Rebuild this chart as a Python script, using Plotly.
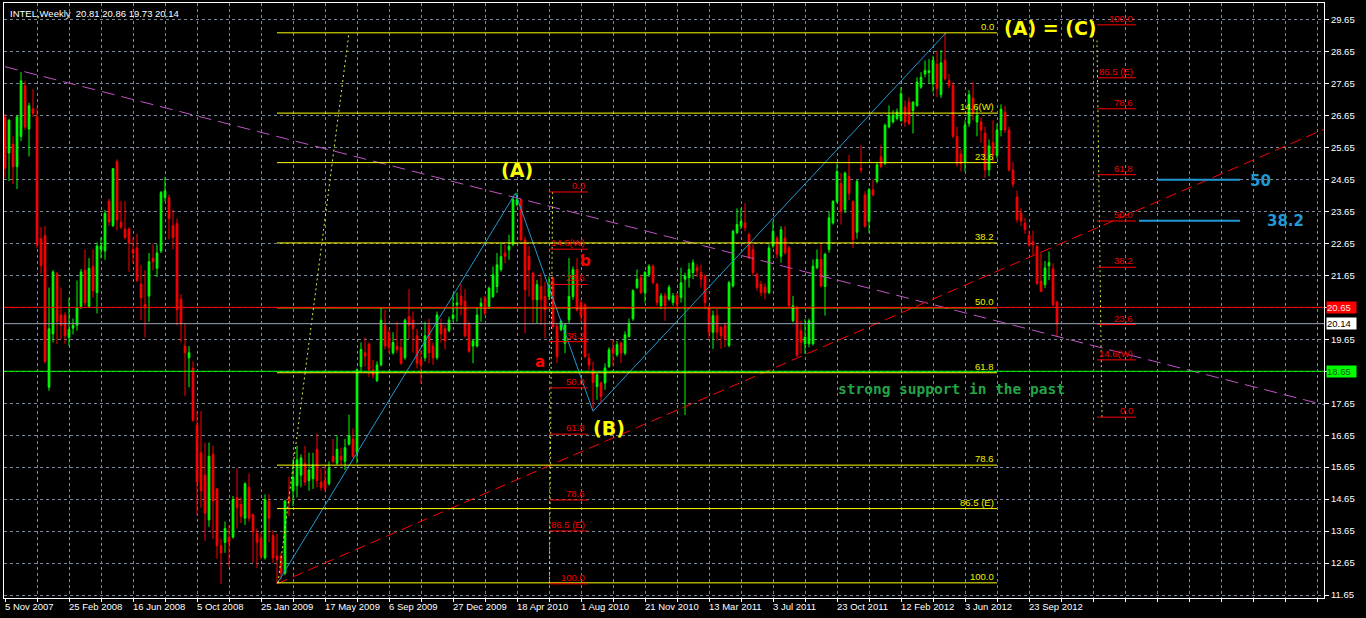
import plotly.graph_objects as go

# ---------------- data (weekly bars, index 0 = week of 5 Nov 2007) ----------------
OPEN = [26.60, 25.48, 25.75, 25.05, 26.00, 27.58, 26.23, 26.86, 26.61, 22.80,
        22.89, 18.15, 19.82, 21.70, 20.41, 20.41, 19.71, 20.00, 20.09, 20.68,
        21.81, 20.68, 21.92, 21.11, 22.46, 22.41, 23.97, 23.21, 25.21, 23.32,
        23.10, 23.10, 22.46, 22.51, 21.38, 20.74, 21.00, 22.19, 21.87, 22.41,
        24.08, 24.08, 23.21, 23.27, 20.90, 19.44, 19.07, 18.74, 16.96, 16.10,
        15.40, 14.00, 16.05, 14.97, 13.19, 13.30, 13.46, 13.46, 14.70, 14.48,
        14.05, 15.02, 14.16, 13.57, 13.41, 12.81, 14.59, 13.51, 12.87, 12.87,
        12.33, 14.70, 14.91, 15.07, 15.40, 15.77, 15.23, 15.29, 16.21, 15.18,
        15.23, 15.13, 15.99, 15.77, 15.99, 15.83, 16.37, 16.53, 16.10, 18.80,
        19.23, 19.50, 18.69, 18.36, 18.85, 20.09, 19.87, 19.23, 19.44, 19.39,
        19.07, 20.36, 20.25, 19.76, 19.01, 19.07, 20.09, 19.44, 19.07, 20.14,
        19.98, 19.92, 20.30, 20.73, 21.00, 20.84, 20.14, 19.44, 19.44, 20.68,
        20.94, 20.68, 20.99, 21.30, 21.83, 22.35, 22.45, 22.61, 23.86, 24.02,
        22.76, 22.24, 21.72, 20.89, 21.30, 20.99, 20.99, 21.57, 20.05, 19.95,
        19.53, 20.26, 20.99, 21.83, 20.80, 20.73, 19.06, 18.70, 18.17, 18.28,
        18.28, 18.80, 19.37, 19.17, 19.53, 19.22, 19.74, 20.29, 21.27, 21.58,
        21.11, 21.68, 21.94, 21.37, 20.70, 21.01, 20.91, 20.80, 21.01, 20.96,
        21.53, 21.58, 21.74, 21.89, 21.74, 21.63, 20.65, 19.87, 20.39, 20.03,
        20.08, 19.46, 21.32, 22.99, 23.20, 23.29, 22.93, 22.46, 21.68, 21.37,
        21.27, 21.11, 22.57, 22.82, 22.25, 22.82, 22.51, 20.23, 20.65, 19.92,
        19.51, 19.51, 19.51, 21.89, 22.15, 21.30, 22.46, 23.29, 23.96, 24.53,
        23.70, 24.74, 23.96, 23.00, 25.00, 24.17, 23.34, 24.33, 24.59, 25.36,
        25.16, 26.30, 26.45, 26.56, 26.50, 26.92, 27.07, 26.81, 26.97, 27.54,
        27.95, 28.00, 27.64, 28.26, 27.30, 28.37, 27.75, 27.60, 26.00, 25.45,
        25.20, 26.40, 27.20, 26.45, 26.45, 26.10, 24.95, 25.80, 25.40, 26.20,
        26.75, 26.20, 24.95, 24.10, 23.60, 23.28, 22.90, 22.70, 22.56, 21.46,
        21.36, 21.95, 21.85, 20.81]
HIGH = [26.70, 26.55, 26.00, 26.66, 28.01, 27.74, 27.05, 27.47, 26.90, 23.16,
        23.20, 21.27, 21.81, 21.76, 21.27, 20.50, 20.95, 20.30, 21.49, 21.85,
        22.46, 22.19, 22.46, 22.68, 22.84, 23.70, 24.05, 25.00, 25.28, 23.97,
        23.97, 23.15, 22.84, 22.95, 21.97, 21.81, 22.35, 22.62, 22.62, 24.29,
        24.72, 24.18, 23.70, 23.43, 21.06, 20.14, 19.44, 18.96, 17.40, 17.40,
        16.42, 16.42, 16.32, 15.00, 13.41, 13.95, 13.84, 14.75, 15.61, 14.70,
        15.18, 15.45, 14.20, 13.73, 13.62, 14.80, 14.80, 13.68, 13.57, 12.97,
        14.62, 15.34, 15.88, 16.32, 16.05, 16.32, 16.10, 16.10, 16.70, 15.61,
        15.67, 15.83, 16.53, 16.64, 16.26, 16.53, 17.29, 16.86, 18.74, 19.55,
        19.71, 19.55, 19.01, 18.96, 20.63, 20.57, 19.98, 19.87, 20.20, 19.66,
        20.30, 21.22, 20.52, 19.98, 19.33, 20.20, 20.30, 19.55, 20.52, 20.30,
        20.09, 20.36, 21.06, 21.11, 21.38, 21.22, 20.20, 19.65, 20.63, 20.95,
        21.00, 21.30, 21.93, 22.35, 22.66, 22.61, 22.92, 24.10, 24.24, 24.05,
        22.87, 22.56, 21.77, 21.51, 21.72, 21.46, 21.62, 21.62, 20.16, 20.26,
        20.16, 22.19, 21.93, 22.19, 20.90, 20.78, 19.22, 18.95, 18.59, 18.33,
        18.90, 19.40, 19.63, 19.60, 19.58, 19.90, 20.30, 21.22, 21.84, 21.68,
        21.79, 22.00, 21.99, 21.42, 21.10, 21.11, 21.35, 21.10, 21.10, 21.89,
        21.73, 22.04, 22.15, 22.00, 21.99, 21.68, 20.70, 20.55, 20.60, 20.08,
        20.18, 21.48, 23.08, 23.75, 23.75, 23.91, 22.99, 22.62, 21.73, 21.48,
        21.40, 22.62, 23.34, 22.88, 23.19, 23.19, 22.57, 21.01, 20.70, 20.23,
        20.28, 20.30, 22.15, 22.46, 22.62, 22.36, 23.65, 24.01, 25.15, 24.85,
        24.90, 25.42, 24.00, 24.64, 25.72, 24.28, 24.38, 24.64, 25.21, 25.72,
        26.40, 26.97, 26.82, 26.87, 27.54, 27.12, 27.23, 27.10, 27.85, 28.01,
        28.37, 28.42, 28.52, 28.68, 28.70, 29.24, 27.95, 27.70, 26.30, 25.60,
        26.50, 27.45, 27.70, 26.90, 26.60, 26.30, 25.90, 26.50, 26.40, 27.00,
        26.95, 26.30, 25.20, 24.30, 23.75, 23.45, 23.05, 23.05, 22.60, 22.40,
        22.10, 22.40, 22.03, 20.86]
LOW = [24.70, 24.60, 24.50, 24.35, 25.85, 26.20, 25.37, 26.60, 22.50, 21.70,
       18.90, 18.04, 19.55, 19.50, 19.66, 19.50, 19.44, 19.80, 19.92, 20.60,
       20.68, 20.63, 20.95, 20.46, 22.19, 22.14, 23.20, 23.16, 23.05, 23.10,
       22.78, 21.76, 22.03, 21.45, 20.25, 19.71, 20.20, 21.81, 21.60, 22.35,
       23.97, 22.78, 22.46, 20.09, 19.55, 17.88, 18.15, 17.07, 14.16, 14.38,
       13.35, 13.78, 13.41, 12.79, 12.00, 12.97, 12.54, 13.41, 13.73, 13.90,
       13.84, 13.95, 12.65, 12.49, 12.76, 12.76, 13.30, 12.65, 12.00, 12.11,
       12.27, 14.11, 14.43, 14.70, 15.02, 15.07, 14.91, 14.97, 15.02, 14.91,
       14.91, 15.07, 15.77, 15.72, 15.72, 15.56, 16.32, 15.94, 15.77, 18.63,
       18.80, 18.47, 18.42, 18.31, 18.80, 19.33, 19.23, 19.17, 19.23, 18.85,
       19.01, 19.66, 19.23, 18.74, 18.26, 18.96, 18.90, 18.85, 19.01, 19.55,
       19.33, 19.87, 20.20, 20.20, 20.41, 19.71, 19.23, 18.90, 19.39, 20.20,
       20.40, 20.60, 20.94, 21.10, 21.77, 22.03, 22.14, 22.56, 23.81, 22.71,
       19.84, 20.99, 20.16, 20.16, 20.10, 19.69, 20.89, 19.95, 18.90, 19.90,
       19.22, 20.16, 20.89, 20.52, 20.20, 19.06, 18.69, 17.42, 17.76, 17.65,
       18.07, 18.75, 18.80, 19.10, 18.90, 19.15, 19.70, 20.23, 21.22, 21.06,
       20.80, 21.60, 21.37, 20.70, 20.60, 20.23, 20.85, 20.70, 20.60, 20.80,
       17.28, 21.27, 21.53, 21.60, 21.27, 20.60, 19.67, 19.35, 19.61, 19.35,
       19.40, 19.40, 21.27, 22.94, 23.10, 23.03, 22.15, 21.63, 21.17, 21.00,
       20.90, 21.06, 22.50, 22.20, 22.05, 22.30, 20.65, 20.18, 19.10, 19.20,
       19.20, 19.40, 19.46, 21.84, 21.27, 20.39, 22.36, 23.24, 23.91, 23.24,
       23.60, 24.01, 22.51, 22.80, 24.85, 23.14, 22.98, 24.12, 24.53, 25.00,
       25.10, 26.25, 26.40, 26.50, 26.45, 26.30, 26.35, 26.09, 26.92, 27.49,
       27.85, 27.64, 27.38, 27.23, 27.20, 27.75, 27.50, 25.95, 25.05, 24.90,
       24.90, 26.30, 26.50, 26.00, 25.80, 24.70, 24.75, 25.20, 25.30, 26.00,
       26.10, 24.90, 24.40, 23.30, 23.20, 22.95, 22.55, 22.30, 21.35, 21.15,
       21.25, 21.50, 20.68, 19.73]
CLOSE = [25.00, 26.50, 25.05, 26.61, 27.74, 26.29, 26.96, 26.72, 22.62, 21.97,
         18.96, 19.98, 21.76, 20.20, 20.09, 19.76, 19.96, 20.09, 20.63, 21.76,
         20.79, 21.87, 21.17, 22.57, 22.57, 23.59, 23.32, 24.99, 23.38, 23.16,
         22.84, 22.67, 22.35, 21.49, 20.95, 20.63, 22.08, 22.08, 22.35, 24.24,
         24.29, 23.43, 22.84, 20.57, 20.14, 19.23, 19.23, 17.12, 15.18, 14.91,
         14.21, 15.99, 14.59, 13.19, 12.97, 13.73, 13.30, 14.64, 14.38, 14.11,
         15.13, 14.05, 13.62, 13.30, 12.87, 14.64, 14.05, 12.81, 12.76, 12.33,
         14.59, 14.54, 15.34, 15.88, 15.94, 15.18, 15.56, 15.72, 15.23, 15.02,
         14.97, 15.61, 15.83, 16.21, 15.88, 16.26, 16.64, 15.99, 18.69, 19.33,
         19.12, 18.69, 18.53, 18.85, 20.25, 19.44, 19.39, 19.55, 19.33, 18.90,
         20.25, 20.09, 19.98, 18.90, 18.85, 19.76, 19.23, 19.07, 20.41, 19.82,
         19.60, 20.25, 20.41, 20.79, 20.73, 19.76, 19.28, 19.60, 20.41, 20.78,
         20.47, 21.25, 21.67, 21.98, 22.24, 22.24, 22.56, 24.02, 24.02, 22.76,
         21.20, 21.83, 20.89, 21.36, 20.89, 20.57, 21.36, 20.05, 19.11, 20.21,
         20.10, 20.99, 21.83, 20.57, 20.39, 19.11, 18.85, 18.30, 18.54, 17.86,
         18.75, 19.32, 19.22, 19.48, 19.22, 19.79, 20.16, 21.17, 21.53, 21.11,
         21.74, 21.94, 21.42, 20.80, 21.01, 20.70, 21.27, 21.01, 20.75, 21.42,
         21.63, 21.84, 22.05, 21.79, 21.53, 20.80, 19.87, 20.39, 19.87, 19.77,
         19.66, 21.42, 23.03, 23.24, 23.34, 23.14, 22.20, 21.74, 21.27, 21.11,
         21.11, 22.51, 23.03, 22.31, 23.08, 22.36, 20.70, 20.70, 19.15, 19.56,
         19.72, 20.23, 21.94, 22.15, 21.32, 22.31, 23.45, 23.96, 24.90, 23.65,
         24.85, 24.22, 22.77, 24.59, 24.95, 23.19, 24.33, 24.17, 25.11, 25.05,
         26.35, 26.66, 26.66, 26.76, 27.33, 26.45, 26.40, 27.07, 27.70, 27.85,
         28.06, 28.05, 28.37, 27.49, 28.30, 27.80, 27.60, 26.00, 25.15, 25.15,
         26.35, 27.30, 26.75, 26.65, 26.20, 24.95, 25.70, 25.40, 26.20, 26.85,
         26.20, 24.95, 24.50, 23.40, 23.35, 23.08, 22.60, 22.60, 21.40, 21.15,
         21.88, 22.05, 20.73, 20.14]

DATE_LABELS = ["5 Nov 2007", "25 Feb 2008", "16 Jun 2008", "5 Oct 2008", "25 Jan 2009",
               "17 May 2009", "6 Sep 2009", "27 Dec 2009", "18 Apr 2010", "1 Aug 2010",
               "21 Nov 2010", "13 Mar 2011", "3 Jul 2011", "23 Oct 2011", "12 Feb 2012",
               "3 Jun 2012", "23 Sep 2012"]
LABEL_STEP = 16      # bars between date labels
GRID_STEP = 8        # bars between vertical grid lines
PRICE_TICKS = [11.65 + k for k in range(19)]

SYMBOL = "INTEL,Weekly"
LAST_OHLC = [20.81, 20.86, 19.73, 20.14]

# horizontal levels
RED_LEVEL = 20.65
BID_LEVEL = 20.14
GREEN_LEVEL = 18.65

# fibonacci objects
FIB_PCT = [0.0, 14.6, 23.6, 38.2, 50.0, 61.8, 78.6, 86.5, 100.0]
FIB_TXT = ["0.0", "14.6(W)", "23.6", "38.2", "50.0", "61.8", "78.6", "86.5 (E)", "100.0"]
FIB_Y_P0, FIB_Y_P100, FIB_Y_X = 29.24, 12.03, [68, 248]          # big yellow fib
FIB_Y_DIAG = [[68.25, 86.0], [12.03, 29.24]]
FIB_R1_P0, FIB_R1_P100, FIB_R1_X = 24.26, 12.00, [136, 145.75]   # small red fib
FIB_R1_DIAG = [[136.1, 136.9], [12.0, 24.26]]
FIB_R2_P0, FIB_R2_P100, FIB_R2_X = 17.215, 29.49, [273, 282.75]  # right red fib
FIB_R2_DIAG = [[274.25, 273.0], [17.215, 29.0]]

# trend lines / wave path
PURPLE_TL = [[0, 329.75], [28.18, 17.60]]
RED_TL = [[68, 329.75], [12.00, 26.22]]
WAVE_X = [68, 127.6, 147, 235.25]
WAVE_Y = [12.00, 24.22, 17.40, 29.24]
BLUE_50 = [[288, 308.75], [24.64, 24.64]]
BLUE_382 = [[283.5, 308.75], [23.36, 23.36]]

n = len(OPEN)
idx = list(range(n))

BG = "#000000"
GRID = "#7A8799"
YEL = "#FFFF00"
RED = "#FF0000"
LIME = "#00FF00"
BLUE = "#2298D4"
AXF = "Liberation Sans, Arial, sans-serif"

fig = go.Figure()
fig.add_trace(go.Candlestick(
    x=idx, open=OPEN, high=HIGH, low=LOW, close=CLOSE,
    increasing=dict(line=dict(color=LIME, width=1), fillcolor=LIME),
    decreasing=dict(line=dict(color=RED, width=1), fillcolor=RED),
    whiskerwidth=0, showlegend=False, hoverinfo="skip"))

def line(xs, ys, color, width=1, dash=None):
    fig.add_trace(go.Scatter(x=xs, y=ys, mode="lines", showlegend=False, hoverinfo="skip",
                             line=dict(color=color, width=width, dash=dash)))

# trend lines
line(PURPLE_TL[0], PURPLE_TL[1], "#C054C8", 1, "13px,7px")
line(RED_TL[0], RED_TL[1], RED, 1, "11px,6px")
line(WAVE_X, WAVE_Y, BLUE, 1)
line(FIB_Y_DIAG[0], FIB_Y_DIAG[1], "#D8F040", 1, "2px,3px")
line(FIB_R1_DIAG[0], FIB_R1_DIAG[1], "#D8F040", 1, "2px,3px")
line(FIB_R2_DIAG[0], FIB_R2_DIAG[1], "#D8F040", 1, "2px,3px")
line(BLUE_50[0], BLUE_50[1], BLUE, 2)
line(BLUE_382[0], BLUE_382[1], BLUE, 2)

shapes = []
annots = []

def hline_full(y, color):
    shapes.append(dict(type="line", xref="paper", x0=0, x1=1, yref="y", y0=y, y1=y,
                       line=dict(color=color, width=1)))

hline_full(GREEN_LEVEL, LIME)
hline_full(BID_LEVEL, "#9AA3B5")

def fib(p0, p100, xr, color, txtcolor):
    for pct, t in zip(FIB_PCT, FIB_TXT):
        y = p0 + (p100 - p0) * pct / 100.0
        shapes.append(dict(type="line", xref="x", yref="y", x0=xr[0], x1=xr[1], y0=y, y1=y,
                           line=dict(color=color, width=1)))
        annots.append(dict(x=xr[1], y=y, xref="x", yref="y", text=t, showarrow=False,
                           xanchor="right", yanchor="bottom", yshift=-1, xshift=-1,
                           font=dict(family=AXF, size=9.5, color=txtcolor)))

fib(FIB_Y_P0, FIB_Y_P100, FIB_Y_X, YEL, "#F0F000")
fib(FIB_R1_P0, FIB_R1_P100, FIB_R1_X, RED, "#F00000")
fib(FIB_R2_P0, FIB_R2_P100, FIB_R2_X, RED, "#F00000")
hline_full(RED_LEVEL, RED)

# text labels
BOLD = "DejaVu Sans, sans-serif"
for t, x, y, c, s, fam in [
        ("(A)", 128.1, 24.94, YEL, 19, BOLD),
        ("(B)", 150.9, 16.88, YEL, 19, BOLD),
        ("(A) = (C)", 261.25, 29.39, YEL, 19, BOLD),
        ("a", 133.75, 18.95, RED, 15, BOLD),
        ("b", 145.0, 22.11, RED, 15, BOLD),
        ("50", 313.75, 24.61, BLUE, 15, BOLD),
        ("38.2", 320.1, 23.36, BLUE, 15, BOLD),
        ("strong support in the past", 236.6, 18.10, "#22A447", 14.5, "DejaVu Sans Mono, monospace")]:
    annots.append(dict(x=x, y=y, xref="x", yref="y", text="<b>%s</b>" % t, showarrow=False,
                       xanchor="center", yanchor="middle", font=dict(family=fam, size=s, color=c)))

# header
annots.append(dict(x=0, y=1, xref="paper", yref="paper", xanchor="left", yanchor="top",
                   xshift=4, yshift=-3, showarrow=False,
                   text=SYMBOL + "\u00a0\u00a0" + " ".join("%.2f" % v for v in LAST_OHLC),
                   font=dict(family=AXF, size=9.5, color="#FFFFFF")))

# date labels
for k, lab in enumerate(DATE_LABELS):
    annots.append(dict(x=k * LABEL_STEP, y=0, xref="x", yref="paper", xanchor="left",
                       yanchor="top", xshift=-2, yshift=-1, showarrow=False, text=lab,
                       font=dict(family=AXF, size=9.5, color="#FFFFFF")))

# price boxes on the axis
for val, bg, fg in [(RED_LEVEL, RED, "#FFE0E0"), (BID_LEVEL, "#FFFFFF", "#000000"),
                    (GREEN_LEVEL, LIME, "#1A5A1A")]:
    annots.append(dict(x=1, y=val, xref="paper", yref="y", xanchor="left", yanchor="middle",
                       xshift=2, showarrow=False, text="%.2f" % val, bgcolor=bg,
                       width=29, height=11, align="left", borderpad=0,
                       font=dict(family=AXF, size=9.5, color=fg)))

tick_text = ["" if abs(v - RED_LEVEL) < 1e-6 or abs(v - GREEN_LEVEL) < 1e-6 else "%.2f" % v
             for v in PRICE_TICKS]

fig.update_layout(
    width=1366, height=618, paper_bgcolor=BG, plot_bgcolor=BG,
    margin=dict(l=4, r=42, t=3, b=20), showlegend=False,
    shapes=shapes, annotations=annots, boxgap=0.4,
    xaxis=dict(range=[-0.25, 329.75], rangeslider=dict(visible=False),
               tickvals=list(range(0, 330, GRID_STEP)), showticklabels=False,
               ticks="outside", ticklen=3, tickcolor="#FFFFFF",
               showgrid=True, gridcolor=GRID, griddash="3px,3px", gridwidth=1,
               zeroline=False, showline=True, linecolor="#FFFFFF", linewidth=1, mirror=True),
    yaxis=dict(range=[11.556, 30.173], side="right", tickvals=PRICE_TICKS, ticktext=tick_text,
               tickfont=dict(family=AXF, size=9.5, color="#FFFFFF"),
               ticks="outside", ticklen=4, tickcolor="#FFFFFF",
               showgrid=True, gridcolor=GRID, griddash="3px,3px", gridwidth=1,
               zeroline=False, showline=True, linecolor="#FFFFFF", linewidth=1, mirror=True),
)

fig.write_html("out.html", config={"displayModeBar": False, "staticPlot": True},
               post_script="document.body.style.margin='0px';document.body.style.overflow='hidden';")
